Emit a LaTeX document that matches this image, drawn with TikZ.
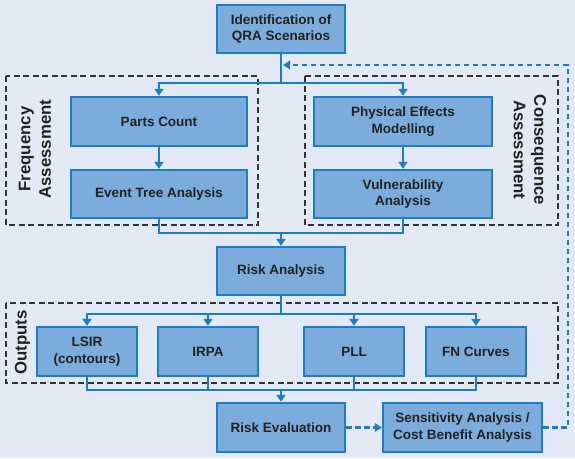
\documentclass[tikz,border=0pt]{standalone}
\usepackage{fontspec}
\setmainfont{Liberation Sans}
\usetikzlibrary{arrows.meta}
\definecolor{bg}{HTML}{E3EAF6}
\definecolor{boxfill}{HTML}{7BACDC}
\definecolor{boxline}{HTML}{1A7EC8}
\definecolor{txt}{HTML}{222222}
\definecolor{grp}{HTML}{333333}
\begin{document}
\begin{tikzpicture}[x=1pt,y=-1pt,
  box/.style={draw=boxline, line width=2.4pt, fill=boxfill, text=txt,
    font=\fontsize{13.5}{16.5}\selectfont\bfseries, align=center, inner sep=0pt},
  conn/.style={draw=boxline, line width=2.2pt},
  arr/.style={conn, -{Triangle[width=9pt,length=7pt]}},
  darr/.style={draw=boxline, line width=2.1pt, dash pattern=on 5.5pt off 3.5pt, -{Triangle[width=8.5pt,length=7pt]}},
  grpbox/.style={draw=grp, line width=2.2pt, dash pattern=on 6pt off 3.5pt},
  lbl/.style={text=txt, font=\fontsize{16.8}{20.5}\selectfont\bfseries, align=center, inner sep=0pt}
]
\fill[bg] (0,0) rectangle (575,458);
\useasboundingbox (0,0) rectangle (575,458);

% group frames
\draw[grpbox] (6,76) rectangle (258,225);
\draw[grpbox] (305,76) rectangle (558,225);
\draw[grpbox] (6,303) rectangle (558,383);

% boxes
\node[box, minimum width=128pt, minimum height=48pt] (top) at (281,29) {Identification of\\QRA Scenarios};
\node[box, minimum width=176pt, minimum height=49pt] (parts) at (159,121.5) {Parts Count};
\node[box, minimum width=176pt, minimum height=48pt] (event) at (159,194) {Event Tree Analysis};
\node[box, minimum width=178pt, minimum height=49pt] (phys) at (403,121.5) {Physical Effects\\Modelling};
\node[box, minimum width=178pt, minimum height=48pt] (vuln) at (403,194) {Vulnerability\\Analysis};
\node[box, minimum width=128pt, minimum height=48pt] (ra) at (281,271) {Risk Analysis};
\node[box, minimum width=100pt, minimum height=49pt] (lsir) at (87,351.5) {LSIR\\(contours)};
\node[box, minimum width=100pt, minimum height=49pt] (irpa) at (208,351.5) {IRPA};
\node[box, minimum width=100pt, minimum height=49pt] (pll) at (354,351.5) {PLL};
\node[box, minimum width=100pt, minimum height=49pt] (fn) at (476,351.5) {FN Curves};
\node[box, minimum width=128pt, minimum height=49pt] (re) at (281,427.5) {Risk Evaluation};
\node[box, minimum width=159pt, minimum height=49pt] (sens) at (462.5,427.5) {Sensitivity Analysis /\\Cost Benefit Analysis};

% group labels
\node[lbl, rotate=90] (freqlbl) at (35,149) {Frequency\\Assessment};
\node[lbl, rotate=-90] (conslbl) at (530,150) {Consequence\\Assessment};
\node[lbl, rotate=90] (outlbl) at (22.5,342.5) {Outputs};

% junction coordinates
\coordinate (s1) at (281,83);
\coordinate (m1) at (281,233);
\coordinate (s2) at (281,314);
\coordinate (m2) at (281,390);
\coordinate (fbend) at (283,65);
\coordinate (fbcorner) at (568,427.5);

% connectors
\draw[conn] (top.south) -- (s1);
\draw[arr] (s1) -| (parts.north);
\draw[arr] (s1) -| (phys.north);
\draw[arr] (parts.south) -- (event.north);
\draw[arr] (phys.south) -- (vuln.north);
\draw[conn] (event.south) |- (m1);
\draw[conn] (vuln.south) |- (m1);
\draw[arr] (m1) -- (ra.north);
\draw[conn] (ra.south) -- (s2);
\draw[arr] (s2) -| (lsir.north);
\draw[arr] (s2) -| (irpa.north);
\draw[arr] (s2) -| (pll.north);
\draw[arr] (s2) -| (fn.north);
\draw[conn] (lsir.south) |- (m2);
\draw[conn] (irpa.south) |- (m2);
\draw[conn] (pll.south) |- (m2);
\draw[conn] (fn.south) |- (m2);
\draw[arr] (m2) -- (re.north);
\draw[darr] (re.east) -- (sens.west);
\draw[darr] (sens.east) -- (fbcorner) |- (fbend);
\end{tikzpicture}
\end{document}
